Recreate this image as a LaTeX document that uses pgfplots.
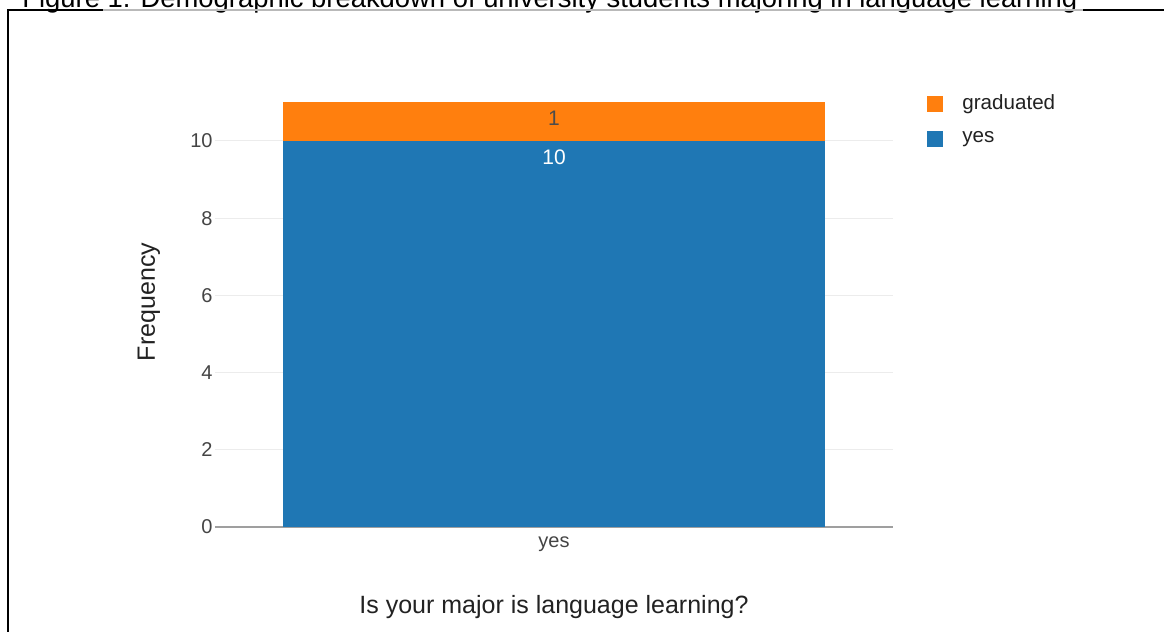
\documentclass[border=0pt]{standalone}
\usepackage{fontspec}
\setmainfont{Liberation Sans}
\usepackage{pgfplots}
\pgfplotsset{compat=1.18}
\definecolor{cblue}{HTML}{1F77B4}
\definecolor{corange}{HTML}{FF7F0E}
\definecolor{tickgray}{HTML}{444444}
\definecolor{labgray}{HTML}{222222}
\begin{document}
\begin{tikzpicture}
\useasboundingbox (0pt,0pt) rectangle (582pt,316pt);
\begin{scope}
\clip (0pt,0pt) rectangle (582pt,316pt);
\node[anchor=base west, inner sep=0pt, font=\fontsize{13.7}{16}\selectfont] at (11pt,312.2pt) {Figure 1. Demographic breakdown of university students majoring in language learning};
\draw[black, line width=0.8pt] (3.5pt,311pt) -- (51.5pt,311pt);
\draw[gray!55, line width=0.9pt] (51.5pt,310.8pt) -- (541.5pt,310.8pt);
\draw[black, line width=0.8pt] (541.5pt,311pt) -- (582pt,311pt);
\draw[black, line width=1pt] (4pt,311.4pt) -- (4pt,-1pt);
\end{scope}
\begin{axis}[
  at={(107.5pt,52.5pt)}, anchor=south west,
  scale only axis, width=339pt, height=212.3pt,
  ybar stacked, bar width=0.8,
  xmin=-0.5, xmax=0.5, ymin=0, ymax=11,
  xtick={0}, xticklabels={yes},
  ytick={0,2,4,6,8,10},
  /pgf/number format/assume math mode=true,
  ymajorgrids, grid style={draw=gray!15, line width=0.5pt},
  axis lines*=left,
  x axis line style={draw=gray!75, line width=0.6pt},
  y axis line style={draw=none},
  major tick length=0pt,
  tick label style={font=\fontsize{10}{12}\selectfont, text=tickgray},
  yticklabel style={anchor=east, inner sep=0pt, xshift=-1pt},
  xticklabel style={anchor=base, inner sep=0pt, yshift=-10.5pt},
  xlabel={Is your major is language learning?},
  ylabel={Frequency},
  label style={font=\fontsize{12.5}{15}\selectfont, text=labgray},
  xlabel style={at={(axis description cs:0.5,-0.2049)}, anchor=base, inner sep=0pt},
  ylabel style={at={(axis description cs:-0.0885,0.53)}, anchor=base, inner sep=0pt},
  point meta=explicit,
  nodes near coords,
  every node near coord/.append style={anchor=center, font=\fontsize{10.5}{12}\selectfont},
  reverse legend,
  legend cell align=left,
  legend image code/.code={\fill[#1] (0pt,-4pt) rectangle (8pt,4pt);},
  legend style={at={(rel axis cs:1,1)}, anchor=north west, xshift=17pt, yshift=6pt,
    draw=none, fill=none, font=\fontsize{10.3}{12}\selectfont, text=labgray, row sep=5.5pt,
    inner sep=0pt, /tikz/every odd column/.append style={column sep=7.5pt}},
]
\addplot[fill=cblue, draw=none, every node near coord/.append style={text=white, yshift=88.5pt}] coordinates {(0,10) [10]};
\addplot[fill=corange, draw=none, every node near coord/.append style={text=black!70, yshift=1.5pt}] coordinates {(0,1) [1]};
\legend{yes, graduated}
\end{axis}
\end{tikzpicture}
\end{document}
